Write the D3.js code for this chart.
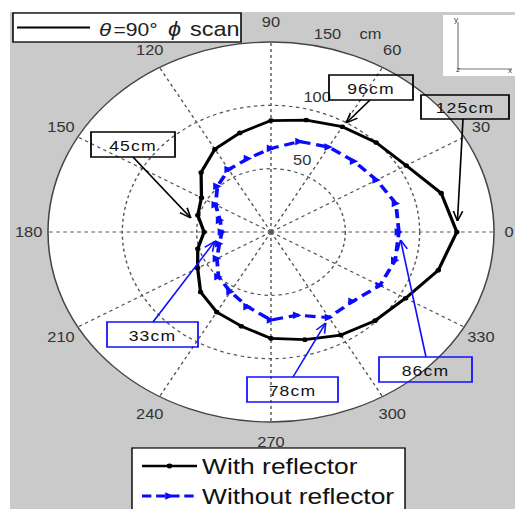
<!DOCTYPE html>
<html>
<head>
<meta charset="utf-8">
<script src="https://cdn.jsdelivr.net/npm/d3@7"></script>
<style>
  body { margin: 0; background: #fff; }
  svg { display: block; }
  text { font-family: "Liberation Sans", Arial, sans-serif; }
</style>
</head>
<body>
<svg id="chart" width="515" height="509"></svg>
<script>
// Measurement angles (degrees, phi scan at theta = 90°)
const angles = [0, 15, 30, 45, 60, 75, 90, 105, 120, 135, 150, 165,
                180, 195, 210, 225, 240, 255, 270, 285, 300, 315, 330, 345];

// Detection range in cm
const withReflector = [125, 118.5, 105, 100, 96, 91.5, 88, 81, 75.5, 66.5, 54, 51,
                       45, 51, 57, 67, 73, 77, 84, 88, 94, 99, 104.5, 116.5];
const withoutReflector = [86, 87, 82, 79, 77.5, 74, 66, 60, 57, 51, 43, 35.5,
                          33, 36, 42, 50, 54.5, 61, 69.5, 68, 78, 77.5, 84.5, 86.5];

// Axis ticks
const angleTicks = [0, 30, 60, 90, 120, 150, 180, 210, 240, 270, 300, 330];
const ringTicks = [50, 100, 150];
const rMax = 150;

// Series names used in the legend
const seriesNames = ["With reflector", "Without reflector"];

// Callouts: which series / angle each boxed label refers to
const calloutSeries = ["with", "with", "with", "without", "without", "without"];
const calloutAngles = [60, 0, 180, 180, 300, 0];

// ---------------------------------------------------------------
const SX = 1.1737;                 // horizontal stretch of the figure
const ix = x => x / SX;            // page x -> drawing x

const svg = d3.select("#chart");
svg.append("rect").attr("width", 515).attr("height", 509).attr("fill", "#fff");

const g = svg.append("g").attr("transform", `scale(${SX},1)`);

// figure background
g.append("rect")
  .attr("x", ix(10)).attr("y", 12)
  .attr("width", ix(520) - ix(10)).attr("height", 509 - 12)
  .attr("fill", "#cacaca");

const cx = ix(271), cy = 232, R = 190;
const r = d3.scaleLinear().domain([0, rMax]).range([0, R]);
const rad = d => d * Math.PI / 180;
const pt = (deg, v) => [cx + r(v) * Math.cos(rad(deg)), cy - r(v) * Math.sin(rad(deg))];

// white plotting disk
g.append("circle").attr("cx", cx).attr("cy", cy).attr("r", R).attr("fill", "#fff");

// spokes
g.append("g").selectAll("line").data(angleTicks).join("line")
  .attr("x1", cx).attr("y1", cy)
  .attr("x2", d => pt(d, rMax)[0]).attr("y2", d => pt(d, rMax)[1])
  .attr("stroke", "#555").attr("stroke-width", 1.2)
  .attr("stroke-dasharray", "3,3");

// rings
g.append("g").selectAll("circle").data(ringTicks).join("circle")
  .attr("cx", cx).attr("cy", cy).attr("r", d => r(d))
  .attr("fill", "none")
  .attr("stroke", d => d === rMax ? "#444" : "#555")
  .attr("stroke-width", d => d === rMax ? 1.3 : 1.2)
  .attr("stroke-dasharray", d => d === rMax ? null : "3,3");

// angle labels (kept inside the page on the right edge)
g.append("g").selectAll("text").data(angleTicks).join("text")
  .attr("x", d => Math.min(cx + r(rMax) * 1.087 * Math.cos(rad(d)), ix(509)))
  .attr("y", d => cy - r(rMax) * 1.105 * Math.sin(rad(d)))
  .attr("text-anchor", "middle").attr("dominant-baseline", "central")
  .attr("font-size", 14).attr("fill", "#333")
  .text(d => d);

// radial labels
const ringLabels = g.append("g");
ringLabels.selectAll("text").data(ringTicks).join("text")
  .attr("x", d => cx + r(d) * Math.cos(rad(82)) + 10)
  .attr("y", d => cy - r(d + 3.5) * Math.sin(rad(82)))
  .attr("font-size", 14).attr("fill", "#333")
  .text(d => d);
ringLabels.append("text")
  .attr("x", cx + r(rMax) * Math.cos(rad(82)) + 10 + 39)
  .attr("y", cy - r(rMax + 3.5) * Math.sin(rad(82)))
  .attr("font-size", 14).attr("fill", "#333")
  .text("cm");

// series
const lineGen = d3.line().curve(d3.curveLinearClosed);
const ptsWith = angles.map((a, i) => pt(a, withReflector[i]));
const ptsWithout = angles.map((a, i) => pt(a, withoutReflector[i]));

g.append("path").attr("d", lineGen(ptsWithout))
  .attr("fill", "none").attr("stroke", "#0a0aff").attr("stroke-width", 3.2)
  .attr("stroke-dasharray", "9,5");
const tri = "M-3.6,-3.8 L3.6,0 L-3.6,3.8 Z";
g.append("g").selectAll("path").data(ptsWithout).join("path")
  .attr("d", tri).attr("transform", d => `translate(${d[0]},${d[1]})`)
  .attr("fill", "#0a0aff");

g.append("path").attr("d", lineGen(ptsWith))
  .attr("fill", "none").attr("stroke", "#000").attr("stroke-width", 2.8)
  .attr("stroke-linejoin", "round");
g.append("g").selectAll("circle").data(ptsWith).join("circle")
  .attr("cx", d => d[0]).attr("cy", d => d[1]).attr("r", 2.3).attr("fill", "#000");

// arrowheads
const defs = svg.append("defs");
[["arrBlack", "#000"], ["arrBlue", "#1010ff"]].forEach(([id, c]) => {
  defs.append("marker").attr("id", id)
    .attr("markerUnits", "userSpaceOnUse")
    .attr("viewBox", "0 0 10 10").attr("refX", 10).attr("refY", 5)
    .attr("markerWidth", 10).attr("markerHeight", 10).attr("orient", "auto")
    .append("path").attr("d", "M0,1 L10,5 L0,9")
    .attr("fill", "none").attr("stroke", c).attr("stroke-width", 1.4);
});

// callout boxes (page coordinates) and arrow starts
const boxes = [
  [329, 75, 413, 100],
  [421, 95, 509, 119],
  [91, 132, 175, 157],
  [107, 322, 198, 347],
  [247, 377, 338, 402],
  [379, 357, 472, 382]
];
const starts = [[370, 100], [463, 119], [133, 157], [153, 322], [293, 377], [426, 357]];
const gaps = [5, 11, 18, 11, 6, 8];

const notes = g.append("g");
calloutSeries.forEach((s, i) => {
  const values = s === "with" ? withReflector : withoutReflector;
  const v = values[angles.indexOf(calloutAngles[i])];
  const color = s === "with" ? "#000" : "#1010ff";
  const [x0, y0, x1, y1] = boxes[i];
  notes.append("rect")
    .attr("x", ix(x0)).attr("y", y0)
    .attr("width", ix(x1) - ix(x0)).attr("height", y1 - y0)
    .attr("fill", "none").attr("stroke", color).attr("stroke-width", 1.5);
  notes.append("text")
    .attr("x", ix((x0 + x1) / 2)).attr("y", (y0 + y1) / 2 + 1)
    .attr("text-anchor", "middle").attr("dominant-baseline", "central")
    .attr("font-size", 15).attr("letter-spacing", 1).attr("fill", "#111")
    .text(`${v}cm`);
  const s0 = [ix(starts[i][0]), starts[i][1]];
  const p = pt(calloutAngles[i], v);
  const dx = p[0] - s0[0], dy = p[1] - s0[1];
  const len = Math.hypot(dx, dy);
  const tip = [p[0] - dx / len * gaps[i], p[1] - dy / len * gaps[i]];
  notes.append("line")
    .attr("x1", s0[0]).attr("y1", s0[1]).attr("x2", tip[0]).attr("y2", tip[1])
    .attr("stroke", color).attr("stroke-width", 1.4)
    .attr("marker-end", `url(#${s === "with" ? "arrBlack" : "arrBlue"})`);
});

// title box
const tb = g.append("g");
tb.append("rect").attr("x", ix(13)).attr("y", 13)
  .attr("width", ix(241) - ix(13)).attr("height", 29)
  .attr("fill", "#fff").attr("stroke", "#000").attr("stroke-width", 1.3);
tb.append("line").attr("x1", ix(17)).attr("x2", ix(90)).attr("y1", 27.5).attr("y2", 27.5)
  .attr("stroke", "#000").attr("stroke-width", 2);
tb.append("text").attr("x", ix(99)).attr("y", 36)
  .attr("font-family", "Liberation Serif, serif").attr("font-style", "italic")
  .attr("font-size", 19).attr("fill", "#222").text("θ");
tb.append("text").attr("x", ix(113.5)).attr("y", 36)
  .attr("font-size", 18).attr("fill", "#222").text("=90°");
tb.append("text").attr("x", ix(168)).attr("y", 36)
  .attr("font-family", "Liberation Serif, serif").attr("font-style", "italic")
  .attr("font-size", 20).attr("fill", "#222").text("ϕ");
tb.append("text").attr("x", ix(190)).attr("y", 36)
  .attr("font-family", "Liberation Serif, serif")
  .attr("font-size", 20).attr("fill", "#222").text("scan");

// orientation inset
const ins = g.append("g");
ins.append("rect").attr("x", ix(443)).attr("y", 15)
  .attr("width", ix(520) - ix(443)).attr("height", 61).attr("fill", "#fff");
ins.append("line").attr("x1", ix(458)).attr("x2", ix(458)).attr("y1", 22).attr("y2", 69)
  .attr("stroke", "#777").attr("stroke-width", 1);
ins.append("line").attr("x1", ix(458)).attr("x2", ix(512)).attr("y1", 69).attr("y2", 69)
  .attr("stroke", "#777").attr("stroke-width", 1);
[["y", 454, 22], ["z", 456, 72], ["x", 508, 73]].forEach(([t, x, y]) => {
  ins.append("text").attr("x", ix(x)).attr("y", y)
    .attr("font-size", 7).attr("fill", "#444").text(t);
});

// legend
const lg = g.append("g");
lg.append("rect").attr("x", ix(132)).attr("y", 448)
  .attr("width", ix(405) - ix(132)).attr("height", 80)
  .attr("fill", "#fff").attr("stroke", "#000").attr("stroke-width", 1.2);
const legendY = [466, 496];
// black row
lg.append("line").attr("x1", ix(142)).attr("x2", ix(197)).attr("y1", legendY[0]).attr("y2", legendY[0])
  .attr("stroke", "#000").attr("stroke-width", 2.4);
lg.append("circle").attr("cx", ix(169.5)).attr("cy", legendY[0]).attr("r", 2.4).attr("fill", "#000");
// blue row
lg.append("line").attr("x1", ix(142)).attr("x2", ix(197)).attr("y1", legendY[1]).attr("y2", legendY[1])
  .attr("stroke", "#0a0aff").attr("stroke-width", 3).attr("stroke-dasharray", "8,4");
lg.append("path").attr("d", tri).attr("transform", `translate(${ix(169.5)},${legendY[1]})`)
  .attr("fill", "#0a0aff");
seriesNames.forEach((name, i) => {
  lg.append("text").attr("x", ix(202)).attr("y", legendY[i] + 8.5)
    .attr("font-size", 22.5).attr("fill", "#111").text(name);
});
</script>
</body>
</html>
